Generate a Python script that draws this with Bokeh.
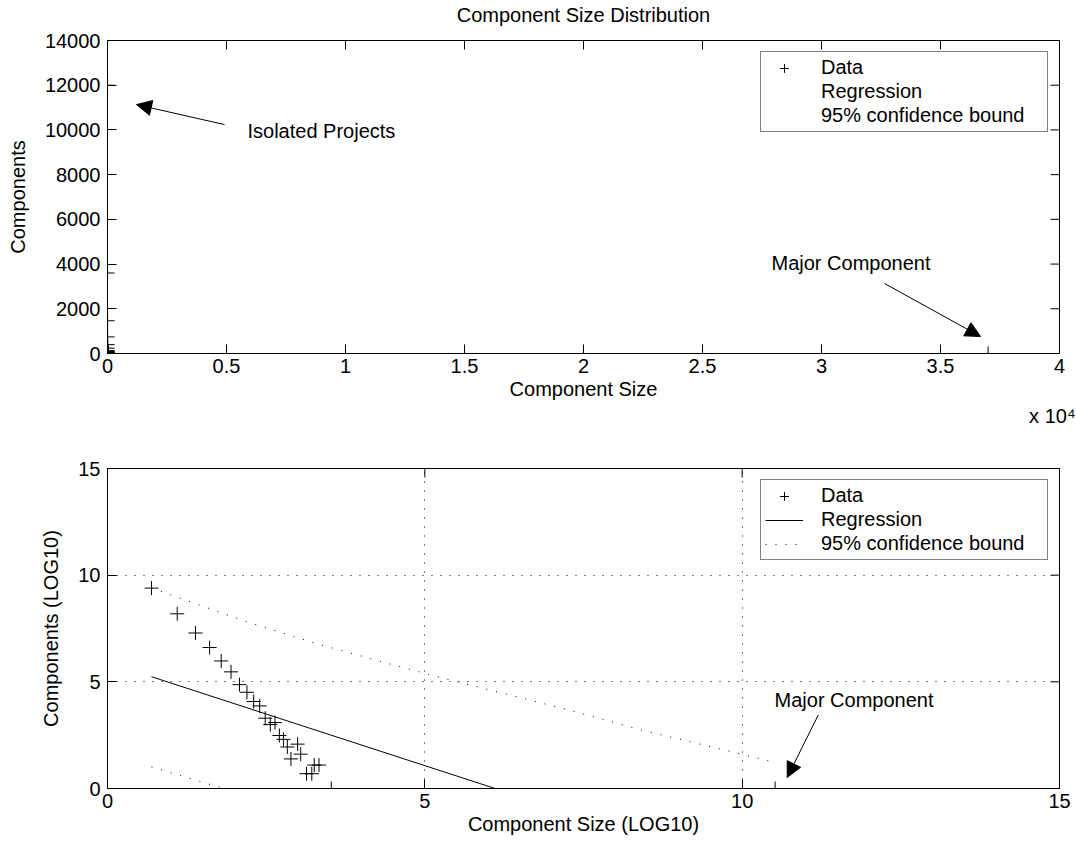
import numpy as np
from bokeh.plotting import figure
from bokeh.models import Range1d, FixedTicker, LinearAxis, Legend, LegendItem, Arrow, NormalHead, Label, Title
from bokeh.layouts import column
from bokeh.embed import file_html
from bokeh.resources import INLINE

FONT = "Liberation Sans"
FS = "20px"

# ---- data ----
component_size = [2, 3, 4, 5, 6, 7, 8, 9, 10, 11, 12, 13, 14, 15, 16, 17, 18, 20, 21, 23, 25, 26, 28, 34, 37000]
component_count = [12000, 3600, 1465, 742, 395, 237, 130, 91, 59, 48, 27, 20, 22, 12, 10, 7, 4, 8, 5, 2, 2, 3, 3, 1, 1]

# regression line and 95% bounds in the log plane
reg_x = [0.693, 10.52]
reg_y = [5.24, -4.27]
upper_x = [0.693, 2.14, 3.27, 4.47, 5.31, 6.21, 7.36, 8.41, 9.73, 10.52]
upper_y = [9.40, 7.87, 6.81, 5.82, 5.15, 4.48, 3.61, 2.74, 1.80, 1.22]
lower_x = [0.693, 1.72, 2.14]
lower_y = [1.01, 0.10, -0.25]

top_xticks = [0, 5000, 10000, 15000, 20000, 25000, 30000, 35000, 40000]
top_xlabels = ["0", "0.5", "1", "1.5", "2", "2.5", "3", "3.5", "4"]
top_yticks = [0, 2000, 4000, 6000, 8000, 10000, 12000, 14000]
log_ticks = [0, 5, 10, 15]

log_size = np.log(component_size)
log_count = np.log(component_count)

W = 1076
ML, MR = 107, 17
FRAME_W = W - ML - MR
TICK = 9  # px, inward tick length


def style(p, xr, yr, frame_h, xticks, yticks, xover=None, top_label=None):
    p.outline_line_color = "black"
    p.outline_line_width = 1
    if top_label:
        top = LinearAxis(ticker=FixedTicker(ticks=[]), axis_label=top_label,
                         axis_label_standoff=15, major_tick_in=0, major_tick_out=0,
                         minor_tick_line_color=None, axis_line_color="black",
                         axis_label_text_font=FONT, axis_label_text_font_size=FS,
                         axis_label_text_font_style="normal", axis_label_text_color="black")
        p.add_layout(top, "above")
    for ax in (p.below[0], p.left[0]):
        ax.axis_line_color = "black"
        ax.major_tick_line_color = "black"
        ax.major_tick_in = TICK
        ax.major_tick_out = 0
        ax.minor_tick_line_color = None
        ax.major_label_text_color = "black"
        ax.major_label_text_font = FONT
        ax.major_label_text_font_size = FS
        ax.axis_label_text_font = FONT
        ax.axis_label_text_font_size = FS
        ax.axis_label_text_font_style = "normal"
        ax.axis_label_text_color = "black"
    p.below[0].ticker = FixedTicker(ticks=xticks)
    p.left[0].ticker = FixedTicker(ticks=yticks)
    if xover:
        p.below[0].major_label_overrides = xover
    p.below[0].major_label_standoff = 5
    p.below[0].axis_label_standoff = 2
    p.left[0].major_label_standoff = 7
    p.left[0].axis_label_standoff = 13
    # mirrored inward ticks on the top and right edges
    dy = TICK * (yr[1] - yr[0]) / frame_h
    dx = TICK * (xr[1] - xr[0]) / FRAME_W
    p.segment(x0=xticks, y0=[yr[1]] * len(xticks), x1=xticks, y1=[yr[1] - dy] * len(xticks),
              line_color="black", line_width=1)
    p.segment(x0=[xr[1]] * len(yticks), y0=yticks, x1=[xr[1] - dx] * len(yticks), y1=yticks,
              line_color="black", line_width=1)


def make_legend(p, items):
    leg = Legend(items=items, location="top_right", margin=11, padding=4,
                 label_text_font=FONT, label_text_font_size=FS, label_text_color="black",
                 glyph_width=38, glyph_height=22, label_height=22, label_width=222,
                 label_standoff=18, spacing=1,
                 border_line_color="black", border_line_width=1, background_fill_alpha=1)
    p.add_layout(leg, "center")


def arrow(p, xs, ys, xe, ye):
    p.add_layout(Arrow(end=NormalHead(size=15, fill_color="black", line_color="black"),
                       x_start=xs, y_start=ys, x_end=xe, y_end=ye, line_width=1, line_color="black"))


def label(p, x, y, text):
    p.add_layout(Label(x=x, y=y, text=text, text_font=FONT, text_font_size=FS, text_color="black",
                       text_baseline="middle", text_align="left"))


# ---------------- top plot ----------------
H1, T1, B1 = 440, 40, 87
xr1, yr1 = (0, 40000), (0, 14000)
p1 = figure(width=W, height=H1, x_range=Range1d(*xr1), y_range=Range1d(*yr1),
            output_backend="svg", toolbar_location=None,
            x_axis_label="Component Size", y_axis_label="Components",
            min_border_left=ML, min_border_right=MR, min_border_top=T1, min_border_bottom=B1)
p1.grid.visible = False
style(p1, xr1, yr1, H1 - T1 - B1, top_xticks, top_yticks, dict(zip(top_xticks, top_xlabels)),
      top_label="Component Size Distribution")
p1.add_layout(Title(text="x 10\u2074", align="right", text_font=FONT, text_font_size=FS,
                    text_font_style="normal", text_color="black", offset=-16, standoff=0), "below")

d1 = p1.scatter(component_size, component_count, marker="cross", size=14, line_color="black", line_width=1)
r1 = p1.line([], [], line_alpha=0)
b1 = p1.line([], [], line_alpha=0)
make_legend(p1, [LegendItem(label="Data", renderers=[d1]),
                 LegendItem(label="Regression", renderers=[r1]),
                 LegendItem(label="95% confidence bound", renderers=[b1])])

arrow(p1, 4916, 10239, 1218, 11133)
label(p1, 5882, 9930, "Isolated Projects")
arrow(p1, 32647, 3131, 36681, 760)
label(p1, 27900, 4070, "Major Component")

# ---------------- bottom plot ----------------
H2, T2, B2 = 407, 28, 59
xr2, yr2 = (0, 15), (0, 15)
p2 = figure(width=W, height=H2, x_range=Range1d(*xr2), y_range=Range1d(*yr2),
            output_backend="svg", toolbar_location=None,
            x_axis_label="Component Size (LOG10)", y_axis_label="Components (LOG10)",
            min_border_left=ML, min_border_right=MR, min_border_top=T2, min_border_bottom=B2)
for g in p2.xgrid + p2.ygrid:
    g.grid_line_color = "black"
    g.grid_line_dash = "1 8"
    g.grid_line_width = 1
    g.ticker = FixedTicker(ticks=[5, 10])
style(p2, xr2, yr2, H2 - T2 - B2, log_ticks, log_ticks)

d2 = p2.scatter(log_size, log_count, marker="cross", size=14, line_color="black", line_width=1)
r2 = p2.line(reg_x, reg_y, line_color="black", line_width=1)
b2 = p2.line(upper_x, upper_y, line_color="black", line_width=1, line_dash="1 9")
p2.line(lower_x, lower_y, line_color="black", line_width=1, line_dash="1 9")
make_legend(p2, [LegendItem(label="Data", renderers=[d2]),
                 LegendItem(label="Regression", renderers=[r2]),
                 LegendItem(label="95% confidence bound", renderers=[b2])])

arrow(p2, 11.2, 3.45, 10.71, 0.52)
label(p2, 10.51, 4.16, "Major Component")

layout = column(p1, p2, spacing=0)
open("out.html", "w").write(file_html(layout, INLINE))
